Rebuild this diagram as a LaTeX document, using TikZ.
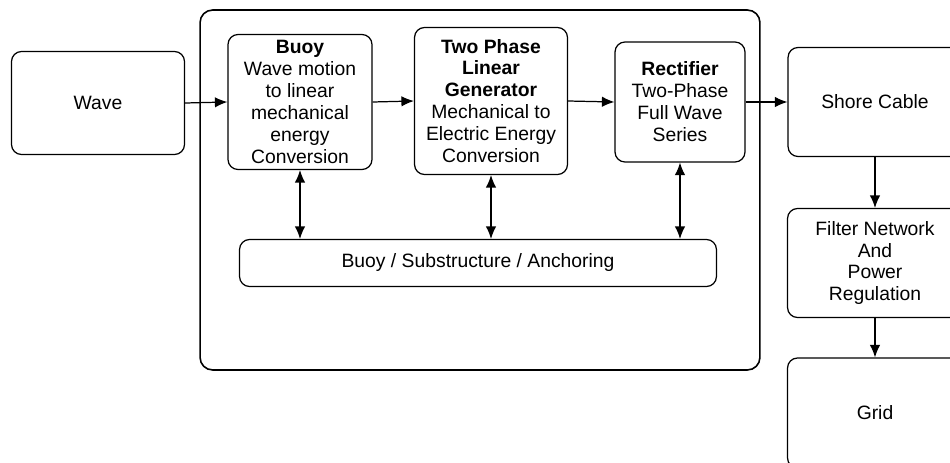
\documentclass[tikz,border=0pt]{standalone}
\usepackage{fontspec}
\setmainfont{Liberation Sans}
\usetikzlibrary{arrows.meta}
\begin{document}
\begin{tikzpicture}[x=0.02cm, y=-0.02cm,
% common options for blocks:
block/.style = {draw, rounded corners=0.2cm, align=center, inner sep=0,
            line width=0.7pt, font=\fontsize{11}{12.5}\selectfont},
% common options for the arrows:
link/.style = {line width=0.7pt, -{Latex[length=2.5mm,width=2.1mm]}},
dlink/.style = {line width=0.7pt, {Latex[length=2.5mm,width=2.1mm]}-{Latex[length=2.5mm,width=2.1mm]}}]
\useasboundingbox (0,0) rectangle (950,463);
\node[block,minimum width=11.2cm,minimum height=7.2cm,rounded corners=0.25cm,line width=0.9pt] (plant) at (480,190) {};
\node[block,minimum width=3.46cm,minimum height=2.06cm] (wave) at (98,103) {Wave};
\node[block,minimum width=2.88cm,minimum height=2.7cm] (buoy) at (300,102) {\textbf{Buoy}\\Wave motion\\to linear\\mechanical\\energy\\Conversion};
\node[block,minimum width=3.06cm,minimum height=2.94cm] (gen) at (491,101) {\textbf{Two Phase}\\\textbf{Linear}\\\textbf{Generator}\\Mechanical to\\Electric Energy\\Conversion};
\node[block,minimum width=2.6cm,minimum height=2.4cm] (rect) at (680,102) {\textbf{Rectifier}\\Two-Phase\\Full Wave\\Series};
\node[block,minimum width=3.48cm,minimum height=2.18cm] (shore) at (875,102) {Shore Cable};
\node[block,minimum width=3.5cm,minimum height=2.18cm] (filter) at (875,263) {Filter Network\\And\\Power\\Regulation};
\node[block,minimum width=3.5cm,minimum height=2.2cm] (grid) at (875,413) {Grid};
\node[block,minimum width=9.54cm,minimum height=0.94cm] (anchor) at (478,263) {Buoy / Substructure / Anchoring};
\draw[link] (wave.east) -- (buoy.west);
\draw[link] (buoy.east) -- (gen.west);
\draw[link] (gen.east) -- (rect.west);
\draw[link] (rect.east) -- (shore.west);
\draw[link] (shore.south) -- (filter.north);
\draw[link] (filter.south) -- (grid.north);
\draw[dlink] (buoy.south) -- (buoy.south |- anchor.north);
\draw[dlink] (gen.south) -- (gen.south |- anchor.north);
\draw[dlink] (rect.south) -- (rect.south |- anchor.north);
\end{tikzpicture}
\end{document}
